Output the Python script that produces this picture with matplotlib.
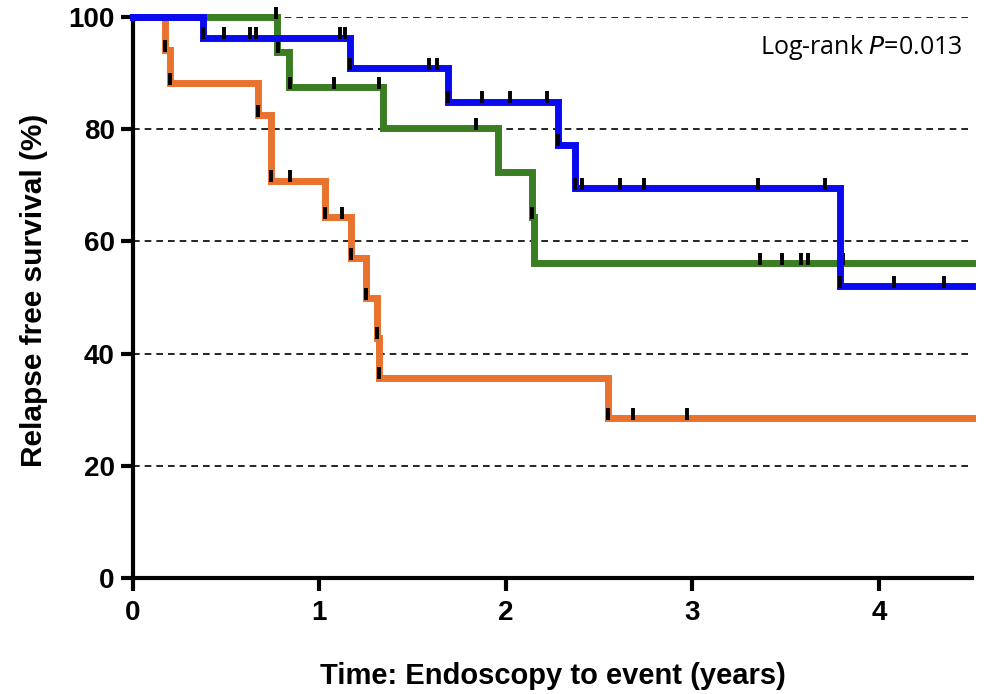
import numpy as np
import matplotlib.pyplot as plt

# Kaplan-Meier step data (time in years, survival in %)
blue_times = [0.376, 1.165, 1.69, 2.28, 2.37, 3.79]
blue_surv = [96.3, 90.9, 84.9, 77.2, 69.5, 52.0]
blue_cens = [0.376, 0.49, 0.63, 0.66, 1.11, 1.14, 1.165, 1.59, 1.63, 1.69, 1.87,
             2.02, 2.22, 2.28, 2.37, 2.41, 2.61, 2.74, 3.35, 3.71, 3.79, 4.08, 4.35]

green_times = [0.775, 0.835, 1.34, 1.96, 2.14, 2.15]
green_surv = [93.8, 87.5, 80.2, 72.4, 64.3, 56.1]
green_cens = [0.77, 0.78, 0.84, 1.08, 1.32, 1.84, 2.14, 3.36, 3.48, 3.58, 3.62, 3.81]

orange_times = [0.17, 0.20, 0.67, 0.74, 1.03, 1.17, 1.25, 1.31, 1.32, 2.55]
orange_surv = [94.1, 88.2, 82.5, 70.8, 64.3, 57.0, 49.9, 42.8, 35.7, 28.5]
orange_cens = [0.17, 0.20, 0.67, 0.74, 0.84, 1.03, 1.12, 1.17, 1.25, 1.31, 1.32,
               2.55, 2.68, 2.97]

x_end = 4.5
x_ticks = [0, 1, 2, 3, 4]
y_ticks = [0, 20, 40, 60, 80, 100]
p_text = 'Log-rank $\\it{P}$=0.013'


def km_curve(ax, times, surv, cens, color, z):
    xs = [0] + times + [x_end]
    ys = [100] + surv + [surv[-1]]
    ax.plot(xs, ys, drawstyle='steps-post', color=color, lw=5,
            solid_joinstyle='miter', zorder=z, clip_on=False)
    levels = np.array([100] + surv)
    idx = np.searchsorted(times, cens, side='right')
    ax.plot(cens, levels[idx] + 0.8, ls='none', marker='|', ms=9, mew=2.8,
            color='black', zorder=z + 0.5, clip_on=False)


fig = plt.figure(figsize=(9.84, 6.94), dpi=100)
ax = fig.add_axes([0.135, 0.167, 0.853, 0.8085])

for yv in y_ticks[1:]:
    ax.axhline(yv, color='black', lw=1.2, ls=(0, (4, 3)), zorder=1)

km_curve(ax, orange_times, orange_surv, orange_cens, '#E8722E', 3)
km_curve(ax, green_times, green_surv, green_cens, '#3A7D22', 4)
km_curve(ax, blue_times, blue_surv, blue_cens, '#0A0AF0', 5)

ax.set_xlim(0, x_end)
ax.set_ylim(0, 100)
ax.set_xticks(x_ticks)
ax.set_yticks(y_ticks)
ax.spines['top'].set_visible(False)
ax.spines['right'].set_visible(False)
for s in ['left', 'bottom']:
    ax.spines[s].set_linewidth(3)
ax.tick_params(width=3, length=9, direction='out', labelsize=20)
ax.tick_params(axis='x', pad=7)
ax.tick_params(axis='y', pad=4)
for lab in ax.get_xticklabels() + ax.get_yticklabels():
    lab.set_fontweight('bold')
    lab.set_family('Liberation Sans')

ax.set_xlabel('Time: Endoscopy to event (years)', fontsize=21, fontweight='bold',
              family='Liberation Sans', labelpad=26)
ax.set_ylabel('Relapse free survival (%)', fontsize=21.5, fontweight='bold',
              family='Liberation Sans')
ax.yaxis.set_label_coords(-0.101, 0.513)

ax.text(0.988, 0.945, p_text, transform=ax.transAxes, ha='right', va='center',
        fontsize=18, family='Open Sans')

fig.savefig('out.png', dpi=100)
